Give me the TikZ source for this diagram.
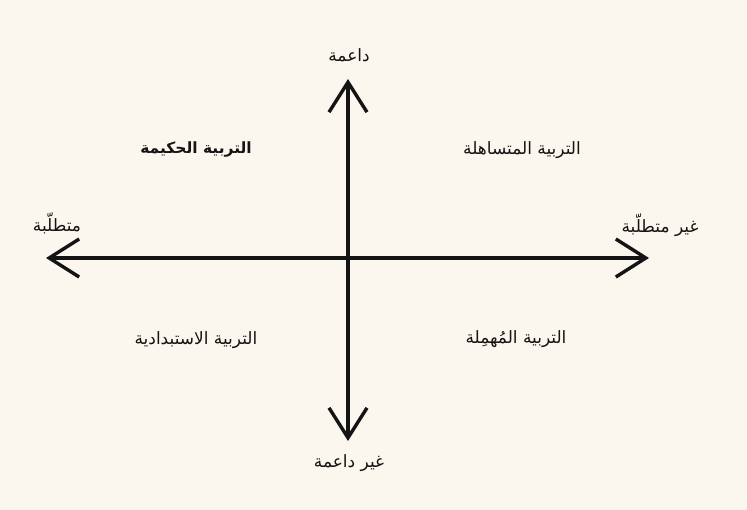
\documentclass[tikz,border=0pt]{standalone}
\usepackage{fontspec}
\usetikzlibrary{arrows.meta}
\TeXXeTstate=1
\newfontfamily\arabicfont[Script=Arabic]{DejaVu Sans}
\definecolor{bgcream}{HTML}{FBF6EE}
\definecolor{inkc}{HTML}{141414}
\tikzset{
  axis/.style={line width=3.6pt, draw=inkc, -{Straight Barb[length=30pt,width=38pt,line width=3.4pt]}, line cap=round},
  lbl/.style={font=\arabicfont\fontsize{17}{20}\selectfont, text=inkc, inner sep=0pt},
  title/.style={font=\arabicfont\bfseries\fontsize{15.5}{18}\selectfont, text=inkc, inner sep=0pt}
}
\begin{document}
\begin{tikzpicture}[x=1pt,y=-1pt]
\fill[bgcream] (0,0) rectangle (747,510);
\useasboundingbox (0,0) rectangle (747,510);
\coordinate (c) at (348,258);
\coordinate (L) at (46,258);
\coordinate (R) at (649,258);
\coordinate (T) at (348,79);
\coordinate (B) at (348,441);
\draw[axis] (c) -- (L);
\draw[axis] (c) -- (R);
\draw[axis] (c) -- (T);
\draw[axis] (c) -- (B);
\node[lbl] (top) at (349,55) {\beginR داعمة\endR};
\node[lbl] (bot) at (349,463) {\beginR غير داعمة\endR};
\node[lbl] (left) at (57,223) {\beginR متطلّبة\endR};
\node[lbl] (right) at (660,225) {\beginR غير متطلّبة\endR};
\node[title] (q2) at (196,150) {\beginR التربية الحكيمة\endR};
\node[lbl] (q1) at (522,150) {\beginR التربية المتساهلة\endR};
\node[lbl] (q3) at (196,340) {\beginR التربية الاستبدادية\endR};
\node[lbl] (q4) at (516,339) {\beginR التربية المُهمِلة\endR};
\end{tikzpicture}
\end{document}
